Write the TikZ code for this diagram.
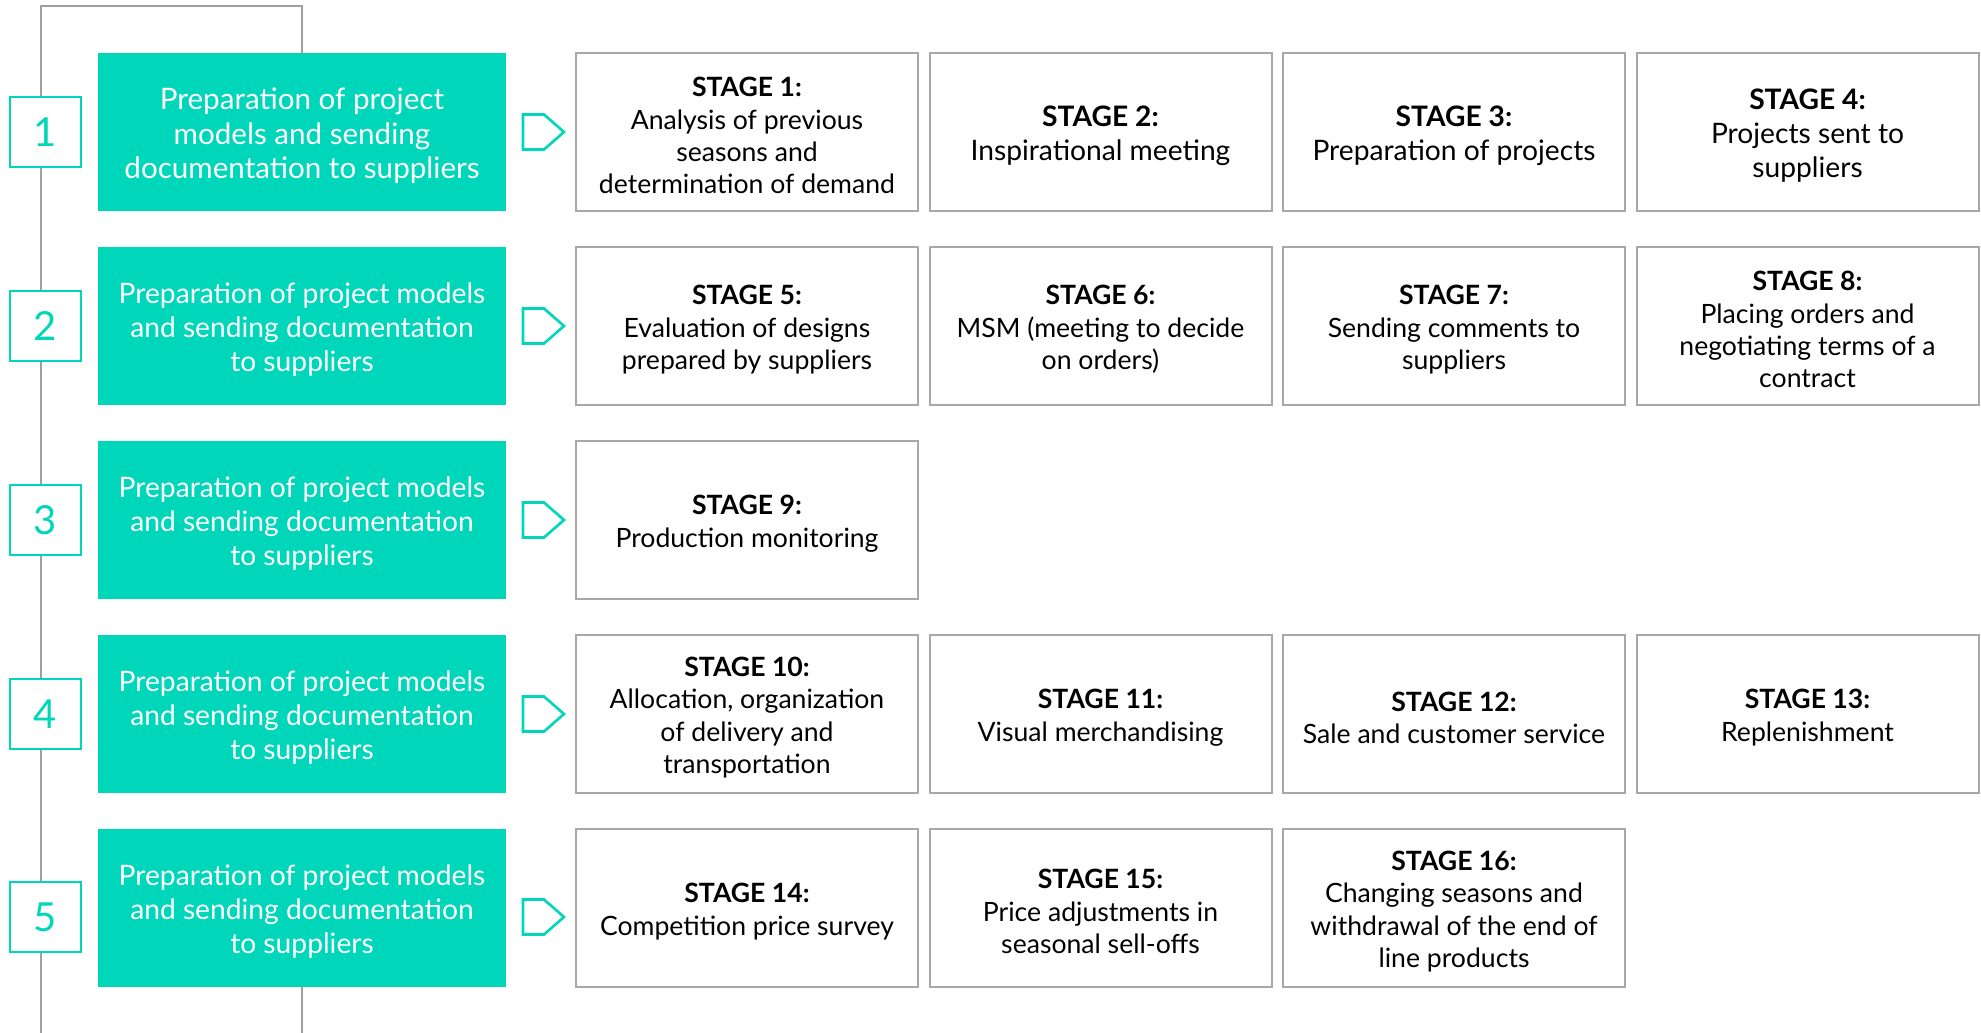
\documentclass[tikz,border=0pt]{standalone}
\usepackage{fontspec}
\setmainfont{Lato}
\usetikzlibrary{backgrounds}

\definecolor{mint}{RGB}{0,214,185}
\definecolor{railgray}{RGB}{160,160,160}
\definecolor{boxgray}{RGB}{168,168,168}

\tikzset{
  phase/.style={fill=mint, minimum width=204pt, minimum height=79pt, inner sep=0pt},
  phasetext/.style={text=white, inner sep=0pt, align=center, font=\fontsize{14.1}{17.1}\selectfont},
  stagebox/.style={draw=boxgray, line width=1pt, fill=white, minimum width=171pt,
    minimum height=79pt, inner sep=0pt},
  stagetext/.style={inner sep=0pt, align=center, font=\fontsize{13.3}{16.2}\selectfont},
  bigtext/.style={stagetext, font=\fontsize{14.1}{16.8}\selectfont},
  numbox/.style={draw=mint, line width=1.3pt, fill=white, text=mint, minimum width=35.5pt,
    minimum height=35pt, inner sep=0pt, font=\fontsize{20}{20}\selectfont},
  tag/.style={draw=mint, line width=1.3pt, line join=miter},
  rail/.style={draw=railgray, line width=0.8pt},
}

\begin{document}
\begin{tikzpicture}[x=0.5pt,y=-0.5pt]
\useasboundingbox (0,0) rectangle (1981,1033);

% phases
\foreach \r/\yy in {1/132,2/326,3/520,4/714,5/908}
  \node[phase] (g\r) at (302,\yy) {};
\node[phasetext, font=\fontsize{14.8}{17.4}\selectfont] (gt1) at ([yshift=-1.9pt]g1.center)
  {Preparation of project\\models and sending\\documentation to suppliers};
\foreach \r in {2,3,4,5}
  \node[phasetext] (gt\r) at ([yshift=-1.9pt]g\r.center)
    {Preparation of project models\\and sending documentation\\to suppliers};

% numbers and tags
\foreach \r/\yy in {1/132,2/326,3/520,4/714,5/917}
{
\node[numbox] (n\r) at (45.5,\yy) {\r};
\draw[tag] (523,\yy-17.5) -- (544,\yy-17.5) -- (564,\yy) -- (544,\yy+17.5) -- (523,\yy+17.5) -- cycle;
}

% stages
\foreach \i/\c/\r in {1/0/0,2/1/0,3/2/0,4/3/0,5/0/1,6/1/1,7/2/1,8/3/1,
  9/0/2,10/0/3,11/1/3,12/2/3,13/3/3,14/0/4,15/1/4,16/2/4}
  \node[stagebox] (s\i) at (747+353.5*\c,132+194*\r) {};

\node[stagetext] (st1) at ([yshift=-1.8pt]s1.center)
  {\textbf{STAGE 1:}\\Analysis of previous\\seasons and\\determination of demand};
\foreach \i/\txt in {
  2/{Inspirational meeting},
  3/{Preparation of projects},
  4/{Projects sent to\\suppliers}}
  \node[bigtext] (st\i) at ([yshift=-1.8pt]s\i.center) {\textbf{STAGE \i:}\\\txt};
\foreach \i/\txt in {
  5/{Evaluation of designs\\prepared by suppliers},
  6/{MSM (meeting to decide\\on orders)},
  7/{Sending comments to\\suppliers},
  8/{Placing orders and\\negotiating terms of a\\contract},
  9/{Production monitoring},
  10/{Allocation, organization\\of delivery and\\transportation},
  11/{Visual merchandising},
  12/{Sale and customer service},
  13/{Replenishment},
  14/{Competition price survey},
  15/{Price adjustments in\\seasonal sell-offs},
  16/{Changing seasons and\\withdrawal of the end of\\line products}}
  \node[stagetext] (st\i) at ([yshift=-1.8pt]s\i.center) {\textbf{STAGE \i:}\\\txt};

% rail behind the numbers
\coordinate (topl) at (41,6);
\coordinate (topr) at (302,6);
\coordinate (botl) at (41,1033);
\coordinate (botr) at (302,1033);
\begin{scope}[on background layer]
\draw[rail] (botl) -- (topl) -- (topr) -- (g1.north);
\draw[rail] (g5.south) -- (botr);
\end{scope}
\end{tikzpicture}
\end{document}
